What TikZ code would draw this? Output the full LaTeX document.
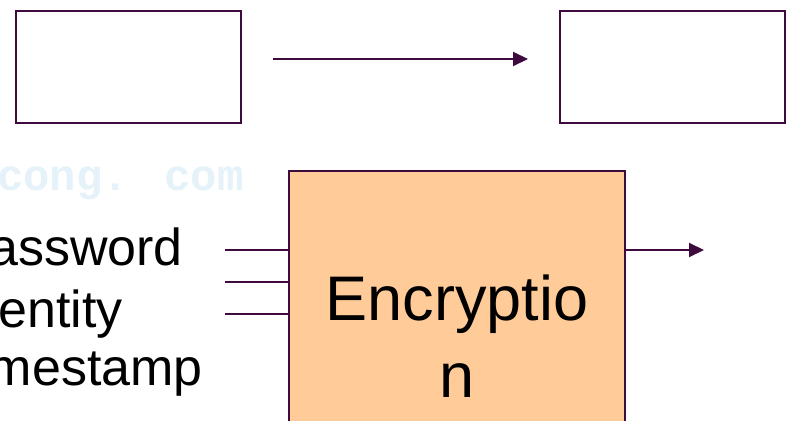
\documentclass[tikz,border=0pt]{standalone}
\usepackage{fontspec}
\setmainfont{Liberation Sans}
\newfontfamily\wmfont{Liberation Mono}
\usetikzlibrary{arrows.meta}
\definecolor{edge}{HTML}{3F0B3F}
\definecolor{encfill}{HTML}{FFCC99}
\definecolor{wm}{HTML}{E6F2F9}
\tikzset{
  plainbox/.style={draw=edge, line width=2.6pt, fill=white, inner sep=0pt, outer sep=0pt},
  encbox/.style={draw=edge, line width=2.4pt, fill=encfill, inner sep=0pt, outer sep=0pt},
  wire/.style={draw=edge, line width=2pt},
  arrowline/.style={wire, -{Triangle[length=15pt,width=14pt]}},
  bigtext/.style={font=\fontsize{63}{77}\selectfont, inner sep=0pt, anchor=base},
  sidetext/.style={font=\fontsize{52}{60}\selectfont, inner sep=0pt, anchor=base east},
}
\begin{document}
\begin{tikzpicture}[x=1pt, y=-1pt]
\useasboundingbox (0,0) rectangle (794,420);
\clip (0,0) rectangle (794,420);
\fill[white] (0,0) rectangle (794,420);
% watermark
\node[font=\wmfont\bfseries\fontsize{44}{50}\selectfont, text=wm, inner sep=0pt, anchor=base west] (wmark) at (-3,190) {cong. com};
% top boxes
\node[plainbox, minimum width=225pt, minimum height=112pt] (b1) at (128.5,67) {};
\node[plainbox, minimum width=225pt, minimum height=112pt] (b2) at (672.5,67) {};
\coordinate (a1) at (273,59);
\coordinate (a2) at (528,59);
\draw[arrowline] (a1) -- (a2);
% encryption box
\node[encbox, minimum width=336pt, minimum height=280pt, anchor=north west] (enc) at (289,171) {};
\node[bigtext] (enc1) at (457,320) {Encryptio};
\node[bigtext] (enc2) at (457,397) {n};
% inputs
\coordinate (in1) at (225,250);
\coordinate (in2) at (225,282);
\coordinate (in3) at (225,314);
\draw[wire] (in1) -- (in1 -| enc.west);
\draw[wire] (in2) -- (in2 -| enc.west);
\draw[wire] (in3) -- (in3 -| enc.west);
% output
\coordinate (out) at (704,250);
\draw[arrowline] (out -| enc.east) -- (out);
% side labels
\node[sidetext] (pw) at (183,265) {Password};
\node[sidetext] (id) at (123,327) {Identity};
\node[sidetext] (ts) at (203,385) {Timestamp};
\end{tikzpicture}
\end{document}
